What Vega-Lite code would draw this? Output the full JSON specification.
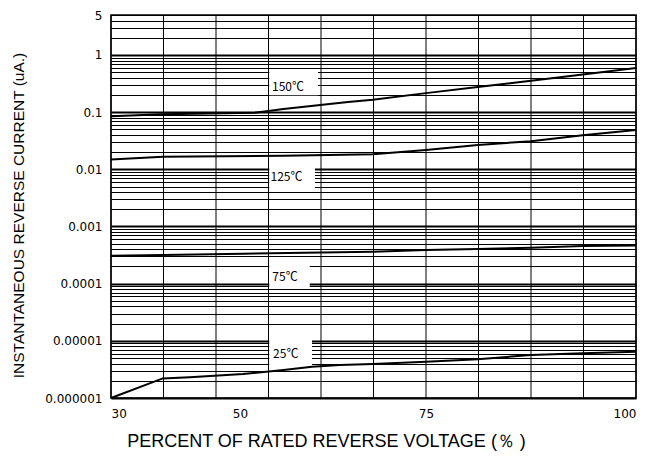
{
  "$schema": "https://vega.github.io/schema/vega-lite/v6.json",
  "width": 525,
  "height": 383,
  "autosize": {"type": "none"},
  "padding": {"left": 111, "top": 15, "right": 13, "bottom": 58},
  "config": {
    "font": "Liberation Sans",
    "view": {"stroke": "black", "strokeWidth": 1.5},
    "axis": {"labelColor": "black", "titleColor": "black", "labelFont": "DejaVu Sans", "titleFont": "Liberation Sans", "titleFontWeight": "normal", "labelFontWeight": "normal", "domain": false, "ticks": false}
  },
  "datasets": {
    "curves": [
      {"series": "150", "x": 30, "y": 0.085},
      {"series": "150", "x": 36.9, "y": 0.092},
      {"series": "150", "x": 49.2, "y": 0.098},
      {"series": "150", "x": 53, "y": 0.113},
      {"series": "150", "x": 61.6, "y": 0.15},
      {"series": "150", "x": 64.9, "y": 0.165},
      {"series": "150", "x": 72, "y": 0.215},
      {"series": "150", "x": 78.9, "y": 0.275},
      {"series": "150", "x": 86, "y": 0.355},
      {"series": "150", "x": 92.9, "y": 0.455},
      {"series": "150", "x": 100, "y": 0.59},
      {"series": "125", "x": 30, "y": 0.0149},
      {"series": "125", "x": 36.9, "y": 0.0166},
      {"series": "125", "x": 53, "y": 0.0172},
      {"series": "125", "x": 64.9, "y": 0.0184},
      {"series": "125", "x": 72, "y": 0.0217},
      {"series": "125", "x": 78.9, "y": 0.0265},
      {"series": "125", "x": 86, "y": 0.0311},
      {"series": "125", "x": 92.9, "y": 0.0396},
      {"series": "125", "x": 100, "y": 0.0485},
      {"series": "75", "x": 30, "y": 0.000308},
      {"series": "75", "x": 36.9, "y": 0.000318},
      {"series": "75", "x": 47.6, "y": 0.000335},
      {"series": "75", "x": 64.9, "y": 0.000361},
      {"series": "75", "x": 72, "y": 0.000387},
      {"series": "75", "x": 78.9, "y": 0.000402},
      {"series": "75", "x": 86, "y": 0.000425},
      {"series": "75", "x": 92.9, "y": 0.000454},
      {"series": "75", "x": 100, "y": 0.000464},
      {"series": "25", "x": 30, "y": 0.000001},
      {"series": "25", "x": 36.9, "y": 0.0000022},
      {"series": "25", "x": 40.5, "y": 0.0000023},
      {"series": "25", "x": 47.6, "y": 0.00000263},
      {"series": "25", "x": 53, "y": 0.00000309},
      {"series": "25", "x": 56.8, "y": 0.00000352},
      {"series": "25", "x": 60.5, "y": 0.00000378},
      {"series": "25", "x": 64.9, "y": 0.00000395},
      {"series": "25", "x": 72, "y": 0.00000431},
      {"series": "25", "x": 78.9, "y": 0.00000475},
      {"series": "25", "x": 86, "y": 0.00000565},
      {"series": "25", "x": 92.9, "y": 0.00000604},
      {"series": "25", "x": 100, "y": 0.00000645}
    ],
    "boxes": [
      {"x": 51.1, "x2": 57.6, "y": 0.198, "y2": 0.542},
      {"x": 51.1, "x2": 57.2, "y": 0.00433, "y2": 0.0109},
      {"x": 51.1, "x2": 56.5, "y": 0.000087, "y2": 0.000259},
      {"x": 51.1, "x2": 56.8, "y": 0.00000348, "y2": 0.0000112}
    ],
    "labels": [
      {"x": 53.6, "y": 0.274, "text": "150℃"},
      {"x": 53.4, "y": 0.00731, "text": "125℃"},
      {"x": 53.2, "y": 0.00013, "text": "75℃"},
      {"x": 53.3, "y": 0.00000588, "text": "25℃"}
    ],
    "vgrid": [
      {"x": 30}, {"x": 37}, {"x": 44}, {"x": 51}, {"x": 58}, {"x": 65},
      {"x": 72}, {"x": 79}, {"x": 86}, {"x": 93}, {"x": 100}
    ]
  },
  "layer": [
    {
      "data": {"name": "vgrid"},
      "mark": {"type": "rule", "color": "black", "strokeWidth": 1},
      "encoding": {
        "x": {
          "field": "x", "type": "quantitative",
          "scale": {"domain": [30, 100], "nice": false, "zero": false},
          "axis": {
            "values": [30, 47.2, 72, 100],
            "labelExpr": "datum.value == 30 ? '30' : datum.value == 100 ? '100' : datum.value < 60 ? '50' : '75'",
            "grid": false,
            "labelFontSize": 12,
            "labelPadding": 10,
            "title": "PERCENT OF RATED REVERSE VOLTAGE (％ )",
            "titleFontSize": 18,
            "titleX": 215,
            "titleY": 43,
            "titleAnchor": null,
            "titleAlign": "center",
            "titleBaseline": "middle"
          }
        }
      }
    },
    {
      "data": {"name": "boxes"},
      "mark": {"type": "rect", "fill": "white"},
      "encoding": {
        "x": {"field": "x", "type": "quantitative"},
        "x2": {"field": "x2"},
        "y": {
          "field": "y", "type": "quantitative",
          "scale": {"type": "log", "domain": [0.000001, 5], "nice": false},
          "axis": {
            "values": [0.000001, 0.000002, 0.000003, 0.000004, 0.000005, 0.000006, 0.000007, 0.000008, 0.000009,
                       0.00001, 0.00002, 0.00003, 0.00004, 0.00005, 0.00006, 0.00007, 0.00008, 0.00009,
                       0.0001, 0.0002, 0.0003, 0.0004, 0.0005, 0.0006, 0.0007, 0.0008, 0.0009,
                       0.001, 0.002, 0.003, 0.004, 0.005, 0.006, 0.007, 0.008, 0.009,
                       0.01, 0.02, 0.03, 0.04, 0.05, 0.06, 0.07, 0.08, 0.09,
                       0.1, 0.2, 0.3, 0.4, 0.5, 0.6, 0.7, 0.8, 0.9,
                       1, 2, 3, 4, 5],
            "format": ".6~f",
            "labelExpr": "test(/^(5|1|0\\.0*1)$/, datum.label) ? datum.label : ''",
            "grid": true,
            "gridColor": "black",
            "gridOpacity": 1,
            "gridWidth": {"condition": {"test": "abs(log(datum.value)/LN10 - round(log(datum.value)/LN10)) < 0.001", "value": 2}, "value": 1},
            "labelFontSize": 12,
            "labelPadding": 9,
            "labelBound": false,
            "labelOverlap": false,
            "title": "INSTANTANEOUS REVERSE CURRENT (uA.)",
            "titleFontSize": 15.5,
            "titleX": -93,
            "titleY": 200,
            "titleAngle": -90,
            "titleAnchor": null,
            "titleAlign": "center",
            "titleBaseline": "middle"
          }
        },
        "y2": {"field": "y2"}
      }
    },
    {
      "data": {"name": "curves"},
      "mark": {"type": "line", "color": "black", "strokeWidth": 2},
      "encoding": {
        "x": {"field": "x", "type": "quantitative"},
        "y": {"field": "y", "type": "quantitative"},
        "detail": {"field": "series"}
      }
    },
    {
      "data": {"name": "labels"},
      "mark": {"type": "text", "font": "Noto Sans CJK SC", "fontSize": 12, "color": "black", "align": "center", "baseline": "middle"},
      "encoding": {
        "x": {"field": "x", "type": "quantitative"},
        "y": {"field": "y", "type": "quantitative"},
        "text": {"field": "text"}
      }
    }
  ]
}
